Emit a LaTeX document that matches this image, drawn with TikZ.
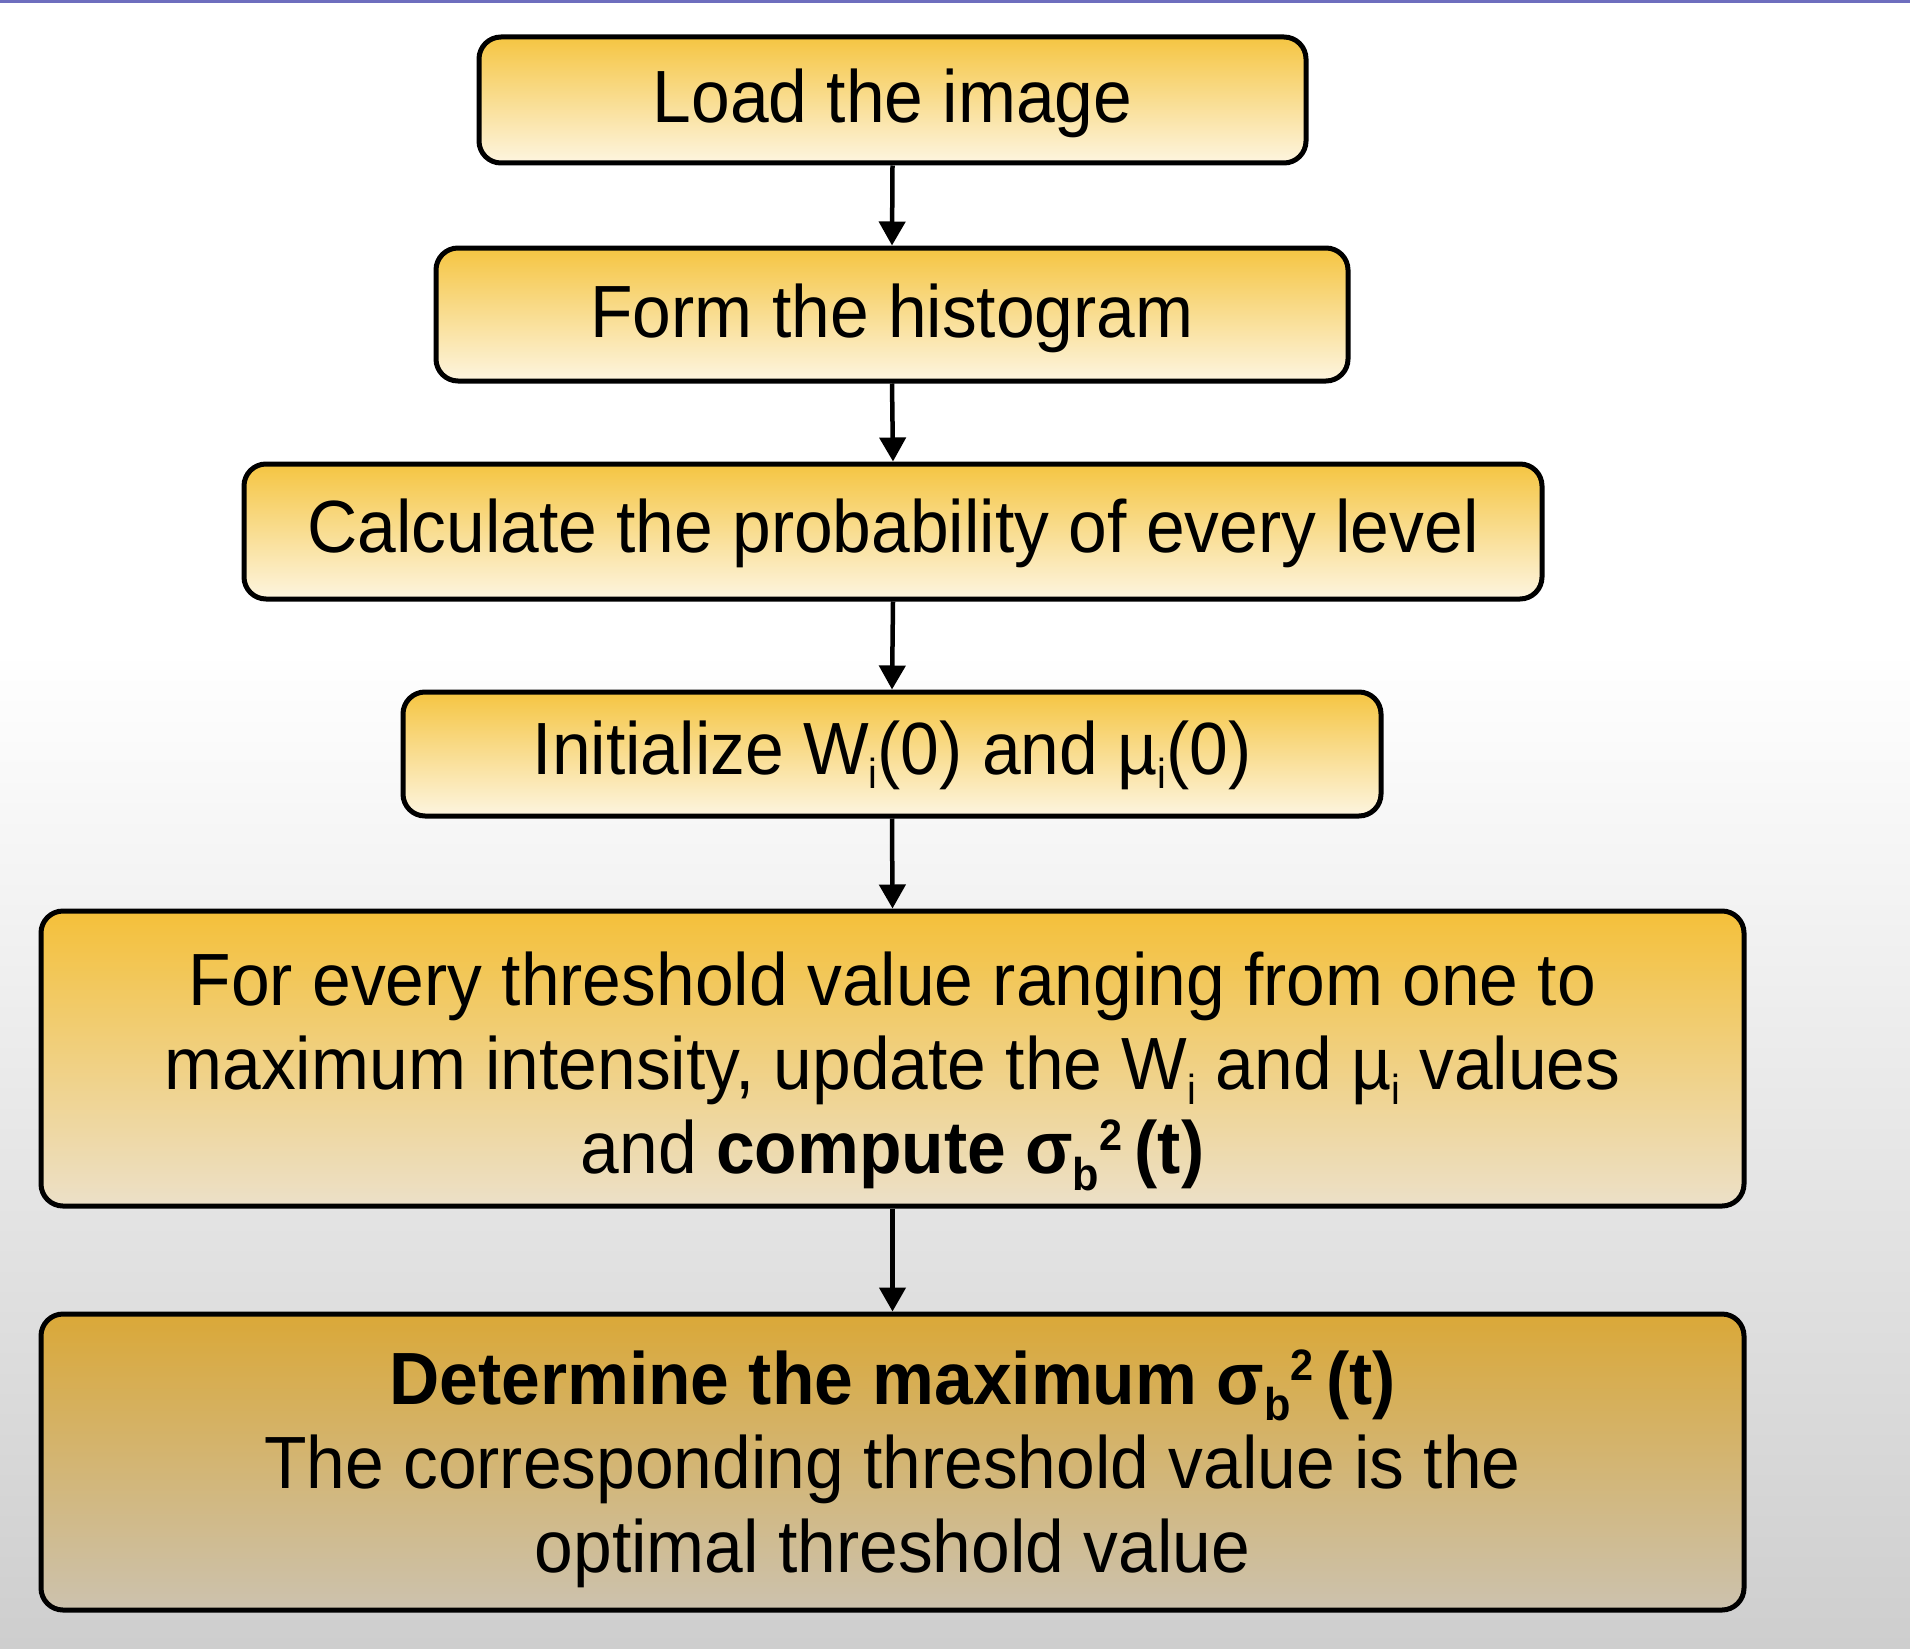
\documentclass[tikz,border=0pt]{standalone}
\usepackage{fontspec}
\setmainfont{Liberation Sans}[FakeStretch=0.94]
\usetikzlibrary{arrows.meta,shadings}
\definecolor{bgbot}{RGB}{206,206,206}
\definecolor{topline}{RGB}{110,110,190}
\definecolor{ytop}{RGB}{245,197,66}
\definecolor{ymid}{RGB}{250,228,168}
\definecolor{ybot}{RGB}{253,245,224}
\definecolor{ftop}{RGB}{244,192,58}
\definecolor{fmid}{RGB}{240,216,160}
\definecolor{fbot}{RGB}{236,224,200}
\definecolor{dtop}{RGB}{218,168,56}
\definecolor{dmid}{RGB}{212,188,130}
\definecolor{dbot}{RGB}{204,194,174}
\newcommand{\mysub}[1]{\raisebox{-0.2em}{\fontsize{42}{42}\selectfont #1}}
\newcommand{\mysubb}[1]{\raisebox{-0.22em}{\fontsize{46}{46}\selectfont #1}}
\newcommand{\mysup}[1]{\raisebox{0.32em}{\fontsize{44}{44}\selectfont #1}}
\begin{document}
\begin{tikzpicture}[x=1pt,y=-1pt,
  boxbase/.style={draw=black, line width=5pt, rounded corners=22pt, inner sep=0pt},
  ybox/.style={boxbase, top color=ytop, middle color=ymid, bottom color=ybot},
  fbox/.style={boxbase, top color=ftop, middle color=fmid, bottom color=fbot},
  dbox/.style={boxbase, top color=dtop, middle color=dmid, bottom color=dbot},
  txt/.style={inner sep=0pt, align=center, font=\fontsize{74}{84}\selectfont},
  arr/.style={line width=4.5pt, -{Triangle[width=26pt,length=24pt]}}]
\useasboundingbox (0,0) rectangle (1910,1648);
\fill[white] (0,0) rectangle (1910,1648);
\shade[top color=white, bottom color=bgbot] (0,650) rectangle (1910,1648);
\fill[topline] (0,0) rectangle (1910,3);

\node[ybox, minimum width=827pt, minimum height=126pt] (b1) at (892.5,100) {};
\node[ybox, minimum width=912pt, minimum height=133pt] (b2) at (892,314.5) {};
\node[ybox, minimum width=1298pt, minimum height=135pt] (b3) at (893,531.5) {};
\node[ybox, minimum width=978pt, minimum height=124pt] (b4) at (892,754) {};
\node[fbox, minimum width=1703pt, minimum height=295pt] (b5) at (892.5,1058.5) {};
\node[dbox, minimum width=1703pt, minimum height=296pt] (b6) at (892.5,1462) {};

\node[txt] (t1) at ([yshift=-3pt]b1.center) {Load the image};
\node[txt] (t2) at ([yshift=-4pt]b2.center) {Form the histogram};
\node[txt] (t3) at ([yshift=-2pt]b3.center) {Calculate the probability of every level};
\node[txt] (t4) at ([yshift=-1pt]b4.center) {Initialize W\mysub{i}(0) and µ\mysub{i}(0)};
\node[txt] (t5) at ([yshift=-13pt]b5.center)
  {For every threshold value ranging from one to\\
   maximum intensity, update the W\mysub{i} and µ\mysub{i} values\\
   and \textbf{compute σ\mysubb{b}\mysup{2}\,(t)}};
\node[txt] (t6) at ([yshift=-7pt]b6.center)
  {\textbf{Determine the maximum σ\mysubb{b}\mysup{2}\,(t)}\\
   The corresponding threshold value is the\\
   optimal threshold value};

\draw[arr] (b1.south) -- (b2.north);
\draw[arr] (b2.south) -- (b3.north);
\draw[arr] (b3.south) -- (b4.north);
\draw[arr] (b4.south) -- (b5.north);
\draw[arr] (b5.south) -- (b6.north);
\end{tikzpicture}
\end{document}
